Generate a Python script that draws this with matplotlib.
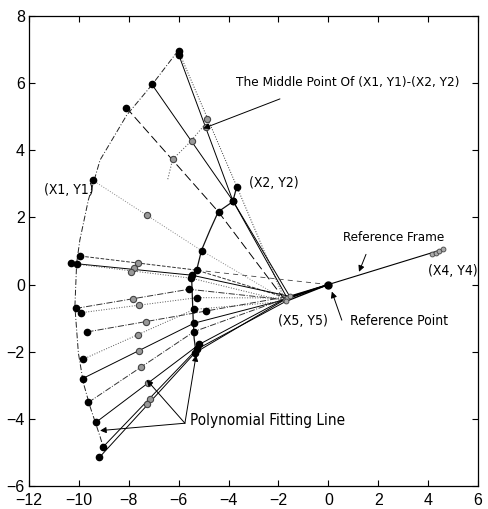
import matplotlib.pyplot as plt
import numpy as np

plt.rcParams['font.family'] = ['DejaVu Sans']

# (X1, Y1) outer points
x1 = [-6.00, -6.00, -7.08, -8.10, -9.45, -9.95, -10.09, -10.33, -10.12, -9.93, -9.66, -9.85, -9.85, -9.62, -9.31, -9.02, -9.18]
y1 = [6.95, 6.85, 5.97, 5.27, 3.11, 0.85, 0.62, 0.63, -0.71, -0.84, -1.41, -2.23, -2.80, -3.51, -4.10, -4.83, -5.15]
# (X2, Y2) inner points
x2 = [-3.67, -3.83, -3.83, -4.40, -5.08, -5.28, -5.48, -5.50, -5.58, -5.26, -4.92, -5.38, -5.38, -5.38, -5.17, -5.28, -5.34]
y2 = [2.92, 2.50, 2.50, 2.16, 1.01, 0.43, 0.28, 0.19, -0.14, -0.39, -0.79, -0.74, -1.15, -1.40, -1.78, -1.93, -2.03]
# middle points of (X1, Y1)-(X2, Y2)
xm = [-4.88, -4.92, -5.45, -6.24, -7.26, -7.64, -7.79, -7.92, -7.84, -7.59, -7.31, -7.64, -7.59, -7.51, -7.24, -7.15, -7.28]
ym = [4.92, 4.68, 4.28, 3.73, 2.07, 0.63, 0.48, 0.38, -0.43, -0.61, -1.12, -1.50, -1.98, -2.46, -2.94, -3.42, -3.57]

# (X5, Y5) cluster, reference point, (X4, Y4) cluster
x5 = [-1.75, -1.65, -1.55, -1.70]
y5 = [-0.45, -0.40, -0.35, -0.50]
ref_x, ref_y = 0.0, 0.0
x4 = [4.15, 4.30, 4.45, 4.60]
y4 = [0.90, 0.95, 1.00, 1.05]

# polynomial fitting lines
outer_x = [-6.02, -7.08, -8.08, -9.15, -9.62, -9.96, -10.09, -10.16, -10.02, -9.82, -9.55, -9.15, -9.03]
outer_y = [6.97, 5.94, 5.05, 3.71, 2.52, 1.33, 0.64, -0.66, -2.04, -2.93, -3.64, -4.53, -4.83]
inner_x = [-3.67, -3.83, -4.41, -4.74, -5.08, -5.28, -5.48, -5.47, -5.42, -5.38, -5.30]
inner_y = [2.92, 2.47, 2.17, 1.63, 1.03, 0.43, 0.23, 0.00, -1.00, -1.60, -2.05]
middle_x = [-5.00, -5.60, -6.24, -6.45]
middle_y = [4.72, 4.20, 3.73, 3.10]

styles = [':', '-', '-', (0, (9, 4)), ':', '--', '-', ':', '-.', ':', '-.', ':', '-', '-.', '-', '-', '-']
colors = ['#333', 'k', 'k', 'k', '#888', '#333', 'k', '#555', '#333', '#555', '#333', '#555', 'k', '#333', 'k', 'k', 'k']

fig = plt.figure(figsize=(4.89, 5.09), dpi=100)
ax = fig.add_axes([0.0593, 0.0452, 0.9182, 0.9234])

# frame lines X1 -> X2 -> X5
for i in range(len(x1)):
    j = i % len(x5)
    ax.plot([x1[i], x2[i], x5[j]], [y1[i], y2[i], y5[j]],
            color=colors[i], linestyle=styles[i], lw=0.7)

ax.plot([x2[5], ref_x], [y2[5], ref_y], color='#444', ls=(0, (6, 5)), lw=0.6)

# fitting lines
ax.plot(outer_x, outer_y, color='#222', ls=(0, (6, 2, 1, 2)), lw=0.7)
ax.plot(inner_x, inner_y, color='#111', ls='-', lw=0.9)
ax.plot(middle_x, middle_y, color='#666', ls=':', lw=0.8)

# X5 -> reference point -> X4
for j in range(len(x5)):
    ax.plot([x5[j], ref_x], [y5[j], ref_y], color='k', lw=1.0)
ax.plot([ref_x, x4[-1]], [ref_y, y4[-1]], color='k', lw=0.8)

# markers
ax.plot(x1, y1, 'o', color='k', ms=4.5)
ax.plot(x2, y2, 'o', color='k', ms=4.5)
ax.plot(xm, ym, 'o', mfc='#999', mec='#444', mew=0.8, ms=4.5)
ax.plot(x5, y5, 'o', mfc='#aaa', mec='#444', mew=0.6, ms=3.5)
ax.plot(x4, y4, 'o', mfc='#aaa', mec='#444', mew=0.6, ms=3.5)
ax.plot([ref_x], [ref_y], 'o', color='k', ms=5)

# annotations
tkw = dict(va='center', fontstretch='condensed', family='DejaVu Sans')
ax.text(-3.70, 6.03, 'The Middle Point Of (X1, Y1)-(X2, Y2)', fontsize=9.7, **tkw)
ax.text(-3.17, 3.03, '(X2, Y2)', fontsize=10, **tkw)
ax.text(-11.40, 2.82, '(X1, Y1)', fontsize=10, **tkw)
ax.text(0.59, 1.39, 'Reference Frame', fontsize=9.5, **tkw)
ax.text(4.00, 0.41, '(X4, Y4)', fontsize=10, **tkw)
ax.text(-2.02, -1.10, '(X5, Y5)', fontsize=10, **tkw)
ax.text(0.87, -1.10, 'Reference Point', fontsize=10, **tkw)
ax.text(-5.54, -4.06, 'Polynomial Fitting Line', fontsize=11, **tkw)

arrow = dict(arrowstyle='-|>', color='k', lw=0.7, mutation_scale=9, shrinkA=0, shrinkB=0)
ax.annotate('', xy=(-5.01, 4.65), xytext=(-1.94, 5.53), arrowprops=arrow)
ax.annotate('', xy=(1.23, 0.38), xytext=(1.51, 0.90), arrowprops=arrow)
ax.annotate('', xy=(0.14, -0.21), xytext=(0.54, -1.06), arrowprops=arrow)
ax.annotate('', xy=(-9.15, -4.35), xytext=(-5.75, -4.13), arrowprops=arrow)
ax.annotate('', xy=(-7.28, -2.84), xytext=(-5.75, -4.13), arrowprops=arrow)
ax.annotate('', xy=(-5.30, -2.10), xytext=(-5.75, -4.13), arrowprops=arrow)

ax.set_xlim(-12, 6)
ax.set_ylim(-6, 8)
ax.set_xticks(np.arange(-12, 7, 2))
ax.set_yticks(np.arange(-6, 9, 2))
ax.tick_params(direction='in', top=True, right=True, length=4, width=0.8,
               labelsize=11.5)
ax.tick_params(axis='x', pad=5)
ax.tick_params(axis='y', pad=3)
for lab in ax.get_xticklabels() + ax.get_yticklabels():
    lab.set_family(['Liberation Sans', 'DejaVu Sans'])
for s in ax.spines.values():
    s.set_linewidth(0.9)

fig.savefig('out.png', dpi=100)
